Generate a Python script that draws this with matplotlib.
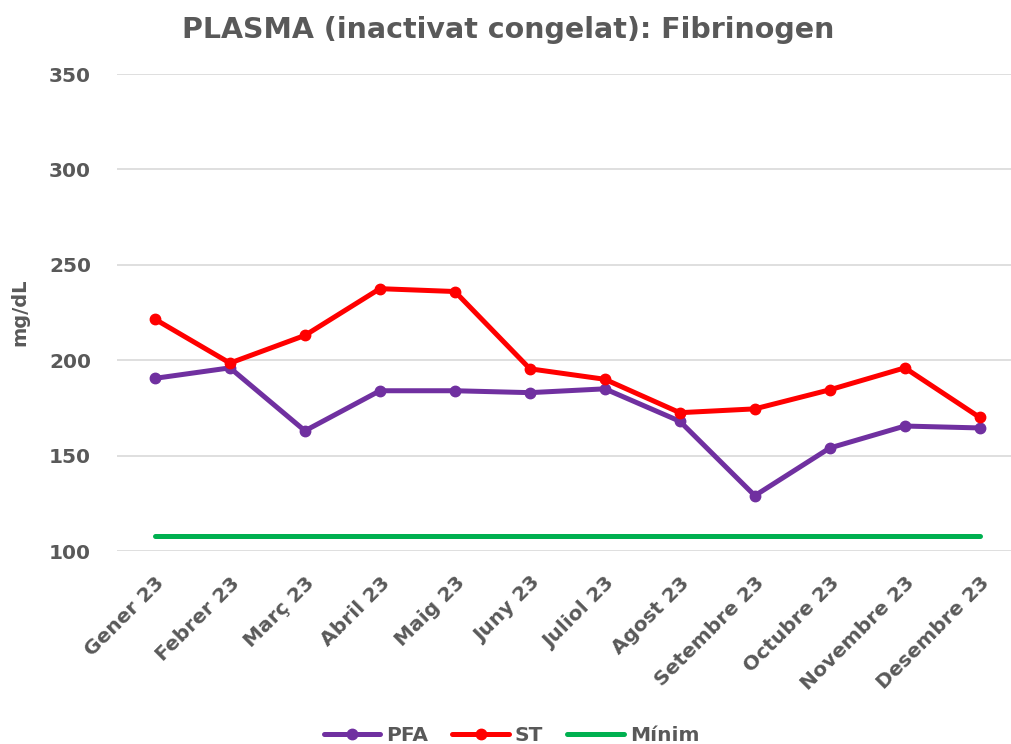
import numpy as np
import matplotlib.pyplot as plt

months = ['Gener 23', 'Febrer 23', 'Març 23', 'Abril 23', 'Maig 23', 'Juny 23',
          'Juliol 23', 'Agost 23', 'Setembre 23', 'Octubre 23', 'Novembre 23', 'Desembre 23']
pfa = [190.5, 196, 163, 184, 184, 183, 185, 168, 129, 154, 165.5, 164.5]
st = [221.5, 198.5, 213, 237.5, 236, 195.5, 190, 172.5, 174.5, 184.5, 196, 170]
minim = [108] * 12
y_ticks = [100, 150, 200, 250, 300, 350]

grey = '#595959'
plt.rcParams['font.family'] = 'DejaVu Sans'
plt.rcParams['font.weight'] = 'bold'

fig = plt.figure(figsize=(10.11, 7.44), dpi=100)
ax = fig.add_axes([0.1162, 0.2594, 0.890, 0.6411])

x = np.arange(len(months))
ax.plot(x, pfa, color='#7030A0', lw=3.6, marker='o', ms=7.5, label='PFA',
        solid_capstyle='round', zorder=3)
ax.plot(x, st, color='#FF0000', lw=3.6, marker='o', ms=7.5, label='ST',
        solid_capstyle='round', zorder=4)
ax.plot(x, minim, color='#00B050', lw=3.6, label='Mínim',
        solid_capstyle='round', zorder=2)

ax.set_xlim(-0.5, len(months) - 0.5)
ax.set_ylim(100, 350)
ax.set_yticks(y_ticks)
ax.set_xticks(x)
ax.set_xticklabels(months, rotation=45, ha='right', rotation_mode='anchor')
ax.tick_params(axis='both', length=0, labelsize=14.5, colors=grey)
ax.tick_params(axis='x', pad=16)
ax.tick_params(axis='y', pad=19)
for lbl in ax.get_xticklabels() + ax.get_yticklabels():
    lbl.set_fontweight('bold')
ax.grid(axis='y', color='#d9d9d9', lw=1.2)
ax.set_axisbelow(True)
for s in ax.spines.values():
    s.set_visible(False)

ax.set_ylabel('mg/dL', fontsize=14, color=grey, fontweight='bold')
ax.yaxis.set_label_coords(-0.098, 0.5)
fig.suptitle('PLASMA (inactivat congelat): Fibrinogen', x=0.503, y=0.978,
             fontsize=20.5, color=grey, fontweight='bold')

leg = fig.legend(loc='lower center', bbox_to_anchor=(0.506, -0.026), ncol=3,
                 frameon=False, fontsize=14.5, handlelength=2.8, columnspacing=1.2,
                 handletextpad=0.3)
for t in leg.get_texts():
    t.set_color(grey)
    t.set_fontweight('bold')

fig.savefig('out.png', dpi=100)
